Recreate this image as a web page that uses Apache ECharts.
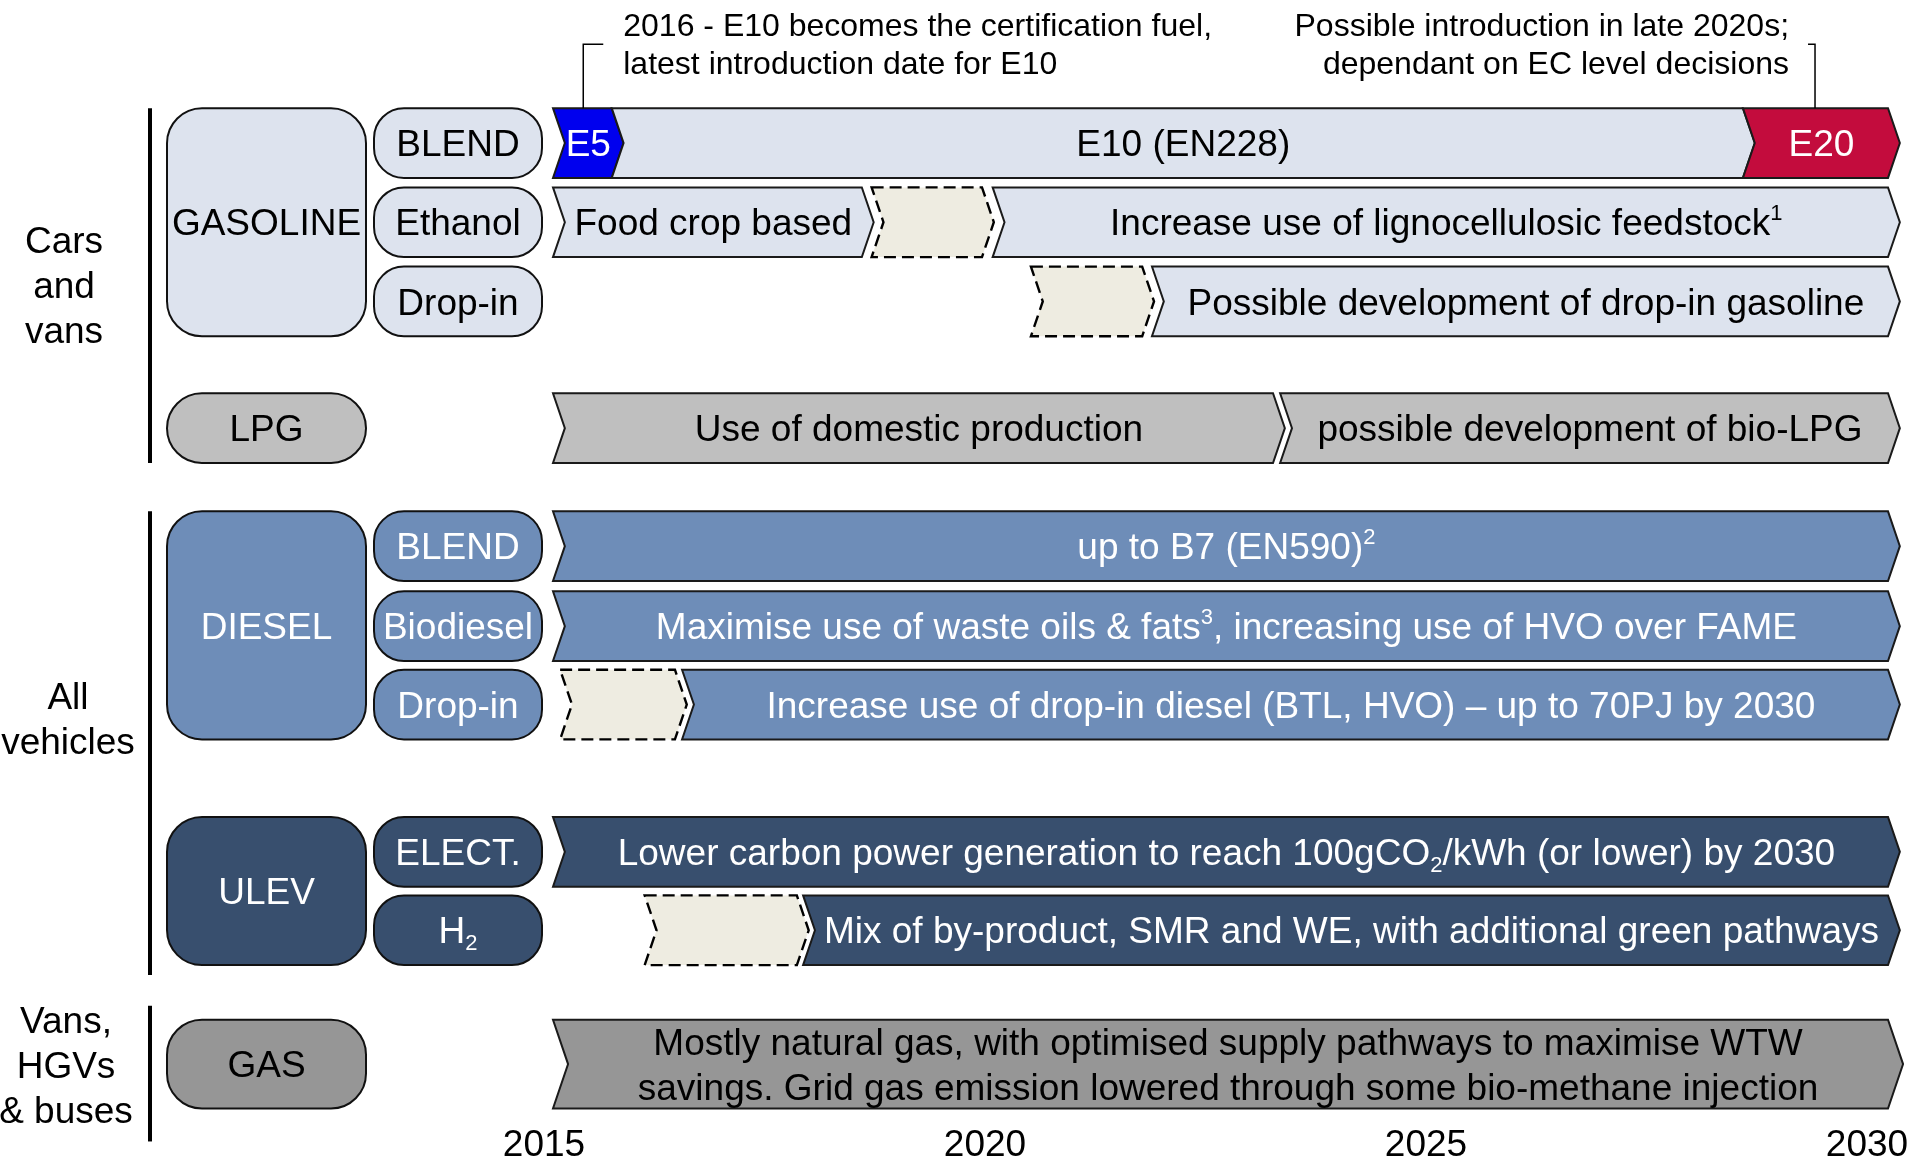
<!DOCTYPE html>
<html>
<head>
<meta charset="utf-8">
<script src="https://cdn.jsdelivr.net/npm/echarts@6/dist/echarts.min.js"></script>
<style>
  html, body { margin: 0; padding: 0; background: #fff; }
  #chart { width: 1913px; height: 1162px; }
</style>
</head>
<body>
<div id="chart"></div>
<script>
// year ticks along the bottom
var yearTicks = [2015, 2020, 2025, 2030];

// timeline rows, top to bottom
var rowNames = ['Gasoline blend', 'Ethanol', 'Gasoline drop-in', 'LPG', 'Diesel blend', 'Biodiesel', 'Diesel drop-in', 'Electricity', 'Hydrogen', 'Gas'];

// roadmap bars : row, start year, end year, kind, label
var segRow   = [0, 0, 0, 1, 1, 1, 2, 2, 3, 3, 4, 5, 6, 6, 7, 8, 8, 9];
var segStart = [2015, 2015.66, 2028.37, 2015, 2018.58, 2019.94, 2020.37, 2021.73, 2015, 2023.17, 2015, 2015, 2015.08, 2016.45, 2015, 2016.03, 2017.81, 2015];
var segEnd   = [2015.66, 2028.37, 2030, 2018.47, 2019.82, 2030, 2021.62, 2030, 2023.09, 2030, 2030, 2030, 2016.37, 2030, 2030, 2017.74, 2030, 2030];
var segKind  = ['e5', 'gasoline', 'e20', 'gasoline', 'pending', 'gasoline', 'pending', 'gasoline', 'lpg', 'lpg',
                'diesel', 'diesel', 'pending', 'diesel', 'ulev', 'pending', 'ulev', 'gas'];
var segText  = [
  'E5', 'E10 (EN228)', 'E20',
  'Food crop based', '', '{t|Increase use of lignocellulosic feedstock}{sup|1}',
  '', 'Possible development of drop-in gasoline',
  'Use of domestic production', 'possible development of bio-LPG',
  '{t|up to B7 (EN590)}{sup|2}',
  '{t|Maximise use of waste oils & fats}{sup|3}{t|, increasing use of HVO over FAME}',
  '', 'Increase use of drop-in diesel (BTL, HVO) \u2013 up to 70PJ by 2030',
  '{t|Lower carbon power generation to reach 100gCO}{sub|2}{t|/kWh (or lower) by 2030}',
  '', 'Mix of by-product, SMR and WE, with additional green pathways',
  'Mostly natural gas, with optimised supply pathways to maximise WTW\nsavings. Grid gas emission lowered through some bio-methane injection'
];

// fuel boxes on the left
var boxText  = ['GASOLINE', 'BLEND', 'Ethanol', 'Drop-in', 'LPG', 'DIESEL', 'BLEND', 'Biodiesel', 'Drop-in', 'ULEV', 'ELECT.', '{t|H}{sub|2}', 'GAS'];
var boxFirst = [0, 0, 1, 2, 3, 4, 4, 5, 6, 7, 7, 8, 9];
var boxLast  = [2, 0, 1, 2, 3, 6, 4, 5, 6, 8, 7, 8, 9];
var boxCol   = [0, 1, 1, 1, 0, 0, 1, 1, 1, 0, 1, 1, 0];
var boxKind  = ['gasoline', 'gasoline', 'gasoline', 'gasoline', 'lpg', 'diesel', 'diesel', 'diesel', 'diesel', 'ulev', 'ulev', 'ulev', 'gas'];

// vehicle groups
var groupText  = ['Cars\nand\nvans', 'All\nvehicles', 'Vans,\nHGVs\n& buses'];
var groupFirst = [0, 4, 9];
var groupLast  = [3, 8, 9];

// call-outs above the blend row
var noteText = ['2016 - E10 becomes the certification fuel,\nlatest introduction date for E10',
                'Possible introduction in late 2020s;\ndependant on EC level decisions'];
var noteYear = [2015.34, 2029.18];

// ---- layout / styles ----
var FONT = "'Liberation Sans', Arial, sans-serif";
var rowSlot = [0, 1, 2, 3.6, 5.09, 6.1, 7.09, 8.95, 9.94, 11.63];
var rowSpan = [0.88, 0.88, 0.88, 0.88, 0.88, 0.88, 0.88, 0.88, 0.88, 1.12];
var cols = [{ x: 167, w: 199, r: 35 }, { x: 374, w: 168, r: 30 }];
var textDrop = 3;   // canvas "middle" sits a little high vs the original
var groupLineX = 150;
var groupPad = [[0, 0], [0, 10], [14, 33]];
var groupLabelX = [64, 68, 66];
var groupLabelSlot = [1.83, 7.3, 11.68];

var palette = {
  gasoline: { fill: '#dde3ee', text: '#000' },
  e5:       { fill: '#0000ee', text: '#fff' },
  e20:      { fill: '#c30c3d', text: '#fff' },
  pending:  { fill: '#eeece1', text: '#000' },
  lpg:      { fill: '#bfbfbf', text: '#000' },
  diesel:   { fill: '#6e8db8', text: '#fff' },
  ulev:     { fill: '#384f6e', text: '#fff' },
  gas:      { fill: '#969696', text: '#000' }
};

function richFor(color, size) {
  return {
    t:   { fontSize: size, fontFamily: FONT, fill: color, lineHeight: 44 },
    sup: { fontSize: 22, fontFamily: FONT, fill: color, lineHeight: 28, verticalAlign: 'top' },
    sub: { fontSize: 22, fontFamily: FONT, fill: color, lineHeight: 28, verticalAlign: 'bottom' }
  };
}

function renderSeg(params, api) {
  var i = params.dataIndex;
  var a = api.coord([api.value(0), api.value(2)]);
  var b = api.coord([api.value(1), api.value(2)]);
  var h = api.size([0, rowSpan[segRow[i]]])[1];
  var d = h * 0.17;
  var top = a[1] - h / 2, bot = a[1] + h / 2, mid = a[1];
  var st = palette[segKind[i]];
  var dashed = segKind[i] === 'pending';
  var children = [{
    type: 'polygon',
    shape: { points: [[a[0], top], [b[0], top], [b[0] + d, mid], [b[0], bot], [a[0], bot], [a[0] + d, mid]] },
    style: {
      fill: st.fill, stroke: dashed ? '#000' : '#1a1a1a',
      lineWidth: dashed ? 2.4 : 2, lineDash: dashed ? [12, 6] : null
    }
  }];
  if (segText[i]) {
    children.push({
      type: 'text',
      x: (a[0] + b[0]) / 2 + d / 2,
      y: mid + textDrop,
      style: {
        text: segText[i], fill: st.text, fontSize: 37, fontFamily: FONT,
        lineHeight: 45, align: 'center', verticalAlign: 'middle', rich: richFor(st.text, 37)
      }
    });
  }
  return { type: 'group', children: children };
}

function renderBox(params, api) {
  var i = params.dataIndex;
  var top = api.coord([2015, api.value(1)])[1] - api.size([0, rowSpan[boxFirst[i]]])[1] / 2;
  var bot = api.coord([2015, api.value(2)])[1] + api.size([0, rowSpan[boxLast[i]]])[1] / 2;
  var c = cols[boxCol[i]];
  var st = palette[boxKind[i]];
  return {
    type: 'group',
    children: [{
      type: 'rect',
      shape: { x: c.x, y: top, width: c.w, height: bot - top, r: c.r },
      style: { fill: st.fill, stroke: '#111', lineWidth: 2 }
    }, {
      type: 'text',
      x: c.x + c.w / 2,
      y: (top + bot) / 2 + textDrop,
      style: {
        text: boxText[i], fill: st.text, fontSize: 37, fontFamily: FONT,
        align: 'center', verticalAlign: 'middle', rich: richFor(st.text, 37)
      }
    }]
  };
}

function renderGroup(params, api) {
  var i = params.dataIndex;
  var top = api.coord([2015, api.value(1)])[1] - api.size([0, rowSpan[groupFirst[i]]])[1] / 2 - groupPad[i][0];
  var bot = api.coord([2015, api.value(2)])[1] + api.size([0, rowSpan[groupLast[i]]])[1] / 2 + groupPad[i][1];
  var ly = api.coord([2015, groupLabelSlot[i]])[1];
  return {
    type: 'group',
    children: [{
      type: 'line',
      shape: { x1: groupLineX, y1: top, x2: groupLineX, y2: bot },
      style: { stroke: '#000', lineWidth: 4 }
    }, {
      type: 'text',
      x: groupLabelX[i],
      y: ly,
      style: {
        text: groupText[i], fill: '#000', fontSize: 37, fontFamily: FONT,
        lineHeight: 45, align: 'center', verticalAlign: 'middle'
      }
    }]
  };
}

function renderNote(params, api) {
  var i = params.dataIndex;
  var p = api.coord([api.value(0), rowSlot[0]]);
  var top = p[1] - api.size([0, rowSpan[0]])[1] / 2;
  var y = top - 64;
  var right = i === 0;
  var tick = right ? 20 : -7;
  var gap = right ? 40 : -26;
  return {
    type: 'group',
    children: [{
      type: 'polyline',
      shape: { points: [[p[0], top], [p[0], y], [p[0] + tick, y]] },
      style: { stroke: '#000', lineWidth: 1.5, fill: null }
    }, {
      type: 'text',
      x: p[0] + gap,
      y: y + 2,
      style: {
        text: noteText[i], fill: '#000', fontSize: 32, fontFamily: FONT,
        lineHeight: 38, align: right ? 'left' : 'right', verticalAlign: 'middle'
      }
    }]
  };
}

var chart = echarts.init(document.getElementById('chart'));

chart.setOption({
  animation: false,
  backgroundColor: '#fff',
  grid: [
    { left: 553, right: 25, top: 0, bottom: 0 },
    { left: 544, right: 46, top: 1119, height: 1 }
  ],
  xAxis: [
    { gridIndex: 0, type: 'value', min: 2015, max: 2030, show: false },
    {
      gridIndex: 1, type: 'value', min: 2015, max: 2030, interval: 5,
      axisLine: { show: false }, axisTick: { show: false }, splitLine: { show: false },
      axisLabel: {
        customValues: yearTicks,
        fontSize: 37, fontFamily: FONT, color: '#000', margin: 8,
        formatter: function (v) { return String(v); }
      }
    }
  ],
  yAxis: [
    { gridIndex: 0, type: 'value', inverse: true, min: -1.806, max: 12.866, show: false },
    { gridIndex: 1, type: 'value', min: 0, max: 1, show: false }
  ],
  series: [
    {
      type: 'custom', name: 'groups', clip: false, xAxisIndex: 0, yAxisIndex: 0,
      renderItem: renderGroup,
      data: groupText.map(function (t, i) { return [2015, rowSlot[groupFirst[i]], rowSlot[groupLast[i]]]; })
    },
    {
      type: 'custom', name: 'fuels', clip: false, xAxisIndex: 0, yAxisIndex: 0,
      renderItem: renderBox,
      data: boxText.map(function (t, i) { return [2015, rowSlot[boxFirst[i]], rowSlot[boxLast[i]]]; })
    },
    {
      type: 'custom', name: rowNames.join(', '), clip: false, xAxisIndex: 0, yAxisIndex: 0,
      renderItem: renderSeg,
      encode: { x: [0, 1], y: 2 },
      data: segRow.map(function (r, i) { return [segStart[i], segEnd[i], rowSlot[r]]; })
    },
    {
      type: 'custom', name: 'notes', clip: false, xAxisIndex: 0, yAxisIndex: 0,
      renderItem: renderNote,
      data: noteYear.map(function (y) { return [y, rowSlot[0]]; })
    }
  ]
});
</script>
</body>
</html>
